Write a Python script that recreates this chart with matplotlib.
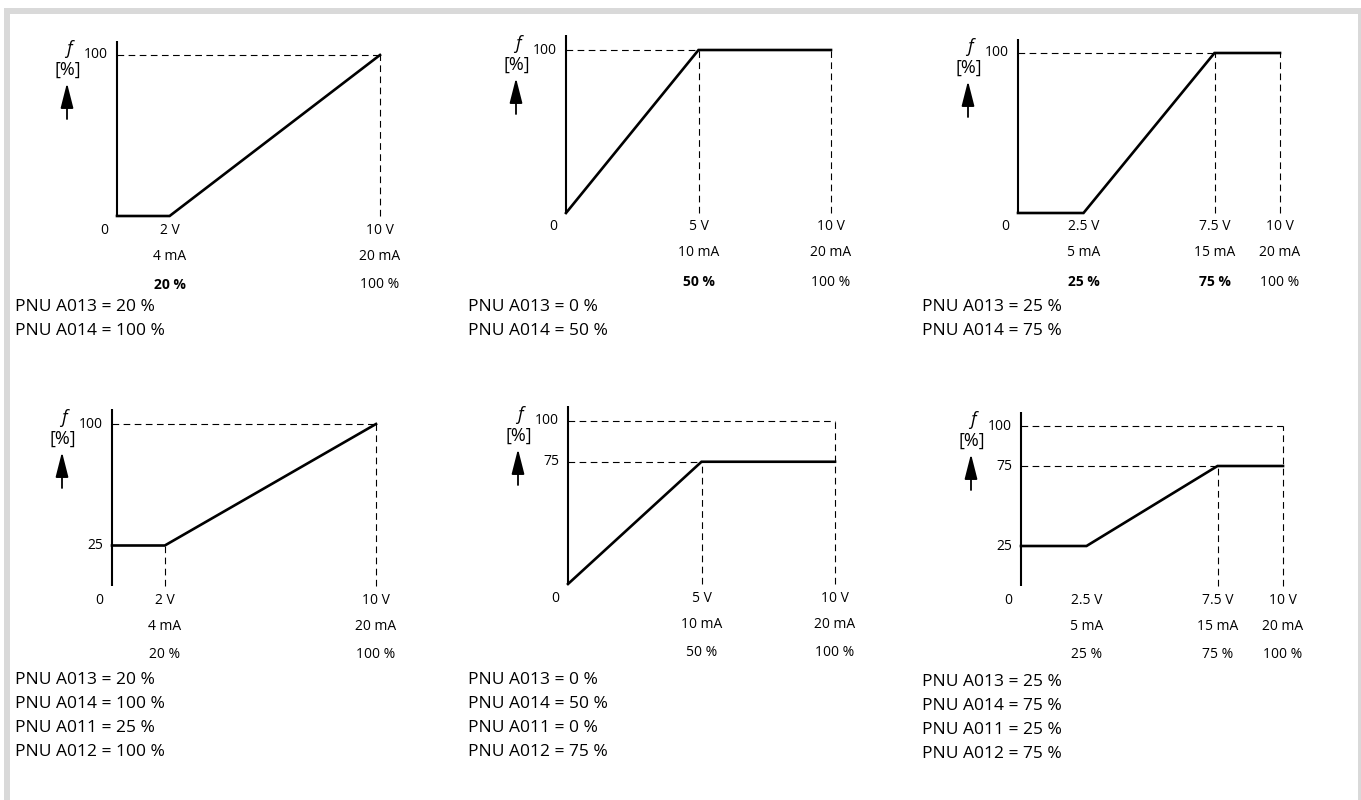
import matplotlib
matplotlib.use('Agg')
import matplotlib.pyplot as plt
from matplotlib.patches import Rectangle
from matplotlib.transforms import offset_copy

plt.rcParams['font.family'] = ['Liberation Sans Narrow', 'Open Sans', 'DejaVu Sans']

W, H = 1361, 800

# characteristic curves: x in V, y in % of f
curve_x = [
    [0, 2, 10],
    [0, 5, 10],
    [0, 2.5, 7.5, 10],
    [0, 2, 10],
    [0, 5, 10],
    [0, 2.5, 7.5, 10],
]
curve_y = [
    [0, 0, 100],
    [0, 100, 100],
    [0, 0, 100, 100],
    [25, 25, 100],
    [0, 75, 75],
    [25, 25, 75, 75],
]

# dashed guides: (level %, runs from 0 V to this V) and (V, runs from 0 % up to this %)
h_guides = [
    [(100, 10)],
    [(100, 5)],
    [(100, 7.5)],
    [(100, 10)],
    [(100, 10), (75, 5)],
    [(100, 10), (75, 7.5)],
]
v_guides = [
    [(10, 100)],
    [(5, 100), (10, 100)],
    [(7.5, 100), (10, 100)],
    [(2, 25), (10, 100)],
    [(5, 75), (10, 100)],
    [(7.5, 75), (10, 100)],
]

y_ticks = [[100], [100], [100], [25, 100], [75, 100], [25, 75, 100]]

x_ticks = [
    [2, 10],
    [5, 10],
    [2.5, 7.5, 10],
    [2, 10],
    [5, 10],
    [2.5, 7.5, 10],
]
volt_labels = [
    ['2 V', '10 V'],
    ['5 V', '10 V'],
    ['2.5 V', '7.5 V', '10 V'],
    ['2 V', '10 V'],
    ['5 V', '10 V'],
    ['2.5 V', '7.5 V', '10 V'],
]
ma_labels = [
    ['4 mA', '20 mA'],
    ['10 mA', '20 mA'],
    ['5 mA', '15 mA', '20 mA'],
    ['4 mA', '20 mA'],
    ['10 mA', '20 mA'],
    ['5 mA', '15 mA', '20 mA'],
]
pct_labels = [
    ['20 %', '100 %'],
    ['50 %', '100 %'],
    ['25 %', '75 %', '100 %'],
    ['20 %', '100 %'],
    ['50 %', '100 %'],
    ['25 %', '75 %', '100 %'],
]
pct_bold = [
    [True, False],
    [True, False],
    [True, True, False],
    [False, False],
    [False, False],
    [False, False, False],
]

pnu_lines = [
    ['PNU A013 = 20 %', 'PNU A014 = 100 %'],
    ['PNU A013 = 0 %', 'PNU A014 = 50 %'],
    ['PNU A013 = 25 %', 'PNU A014 = 75 %'],
    ['PNU A013 = 20 %', 'PNU A014 = 100 %', 'PNU A011 = 25 %', 'PNU A012 = 100 %'],
    ['PNU A013 = 0 %', 'PNU A014 = 50 %', 'PNU A011 = 0 %', 'PNU A012 = 75 %'],
    ['PNU A013 = 25 %', 'PNU A014 = 75 %', 'PNU A011 = 25 %', 'PNU A012 = 75 %'],
]

# panel placement in pixels: x of 0 V, x of 10 V, y of 0 %, y of 100 %,
# then left / top of the parameter text block
panel_px = [
    (117, 380, 216, 55, 15, 307),
    (566, 831, 213, 50, 468, 307),
    (1018, 1280, 213, 53, 922, 307),
    (112, 376, 586, 424, 15, 680),
    (568, 835, 584, 421, 468, 680),
    (1021, 1283, 586, 426, 922, 682),
]

fig = plt.figure(figsize=(W / 100, H / 100), dpi=100)

# light gray frame (top, left, right)
grey = '#d9d9d9'
for (x, y, w, h) in [(4, 8, W - 4, 6), (4, 8, 6, H - 8), (1358, 8, 3, H - 8)]:
    fig.add_artist(Rectangle((x / W, 1 - (y + h) / H), w / W, h / H,
                             transform=fig.transFigure, color=grey, lw=0))

for i, (x0, x10, y0, y100, tx, ty) in enumerate(panel_px):
    ax = fig.add_axes([x0 / W, 1 - y0 / H, (x10 - x0) / W, (y0 - y100) / H])
    ax.set_xlim(0, 10)
    ax.set_ylim(0, 100)
    ax.axis('off')

    # dashed guide lines
    for lvl, xe in h_guides[i]:
        ax.plot([0, xe], [lvl, lvl], color='black', lw=0.8, ls=(0, (6, 4)),
                clip_on=False, zorder=2)
    for xv, ye in v_guides[i]:
        ax.plot([xv, xv], [0, ye], color='black', lw=0.8, ls=(0, (6, 4)),
                clip_on=False, zorder=2)

    # axes
    ax.plot([0, 0], [0, 109], color='black', lw=1.5, clip_on=False, zorder=3,
            solid_capstyle='butt')
    ax.annotate('', xy=(11.4, 0), xytext=(0, 0),
                arrowprops=dict(arrowstyle='-|>,head_length=0.7,head_width=0.22',
                                mutation_scale=20, lw=1.5, color='black',
                                shrinkA=0, shrinkB=0), zorder=3)

    # characteristic
    ax.plot(curve_x[i], curve_y[i], color='black', lw=1.9, clip_on=False,
            zorder=4, solid_joinstyle='miter')

    # y label with arrow
    ax.annotate('f', xy=(0, 100), xytext=(-48, 6), textcoords='offset pixels',
                ha='center', va='center', fontsize=13, style='italic')
    ax.annotate('[%]', xy=(0, 100), xytext=(-49, -15), textcoords='offset pixels',
                ha='center', va='center', fontsize=13)
    tr = offset_copy(ax.transData, fig=fig, x=-50, y=-28, units='dots')
    ax.annotate('', xy=(0, 100), xycoords=tr, xytext=(0, -36),
                textcoords='offset pixels',
                arrowprops=dict(arrowstyle='-|>,head_length=1.1,head_width=0.28',
                                mutation_scale=14, lw=1.3, color='black',
                                shrinkA=0, shrinkB=0))

    for yt in y_ticks[i]:
        ax.annotate(str(yt), xy=(0, yt), xytext=(-9, 0), textcoords='offset pixels',
                    ha='right', va='center', fontsize=10)

    ax.annotate('0', xy=(0, 0), xytext=(-13, -14), textcoords='offset pixels',
                ha='center', va='center', fontsize=10)
    for xt, vl, ml, pl, b in zip(x_ticks[i], volt_labels[i], ma_labels[i],
                                 pct_labels[i], pct_bold[i]):
        ax.annotate(vl, xy=(xt, 0), xytext=(0, -14), textcoords='offset pixels',
                    ha='center', va='center', fontsize=10)
        ax.annotate(ml, xy=(xt, 0), xytext=(0, -40), textcoords='offset pixels',
                    ha='center', va='center', fontsize=10)
        ax.annotate(pl, xy=(xt, 0), xytext=(0, -69), textcoords='offset pixels',
                    ha='center', va='center', fontsize=10,
                    fontweight='bold' if b else 'normal')

    for k, line in enumerate(pnu_lines[i]):
        fig.text(tx / W, 1 - (ty + 24 * k) / H, line, ha='left', va='center',
                 fontsize=12.5)

fig.savefig('out.png', dpi=100)
